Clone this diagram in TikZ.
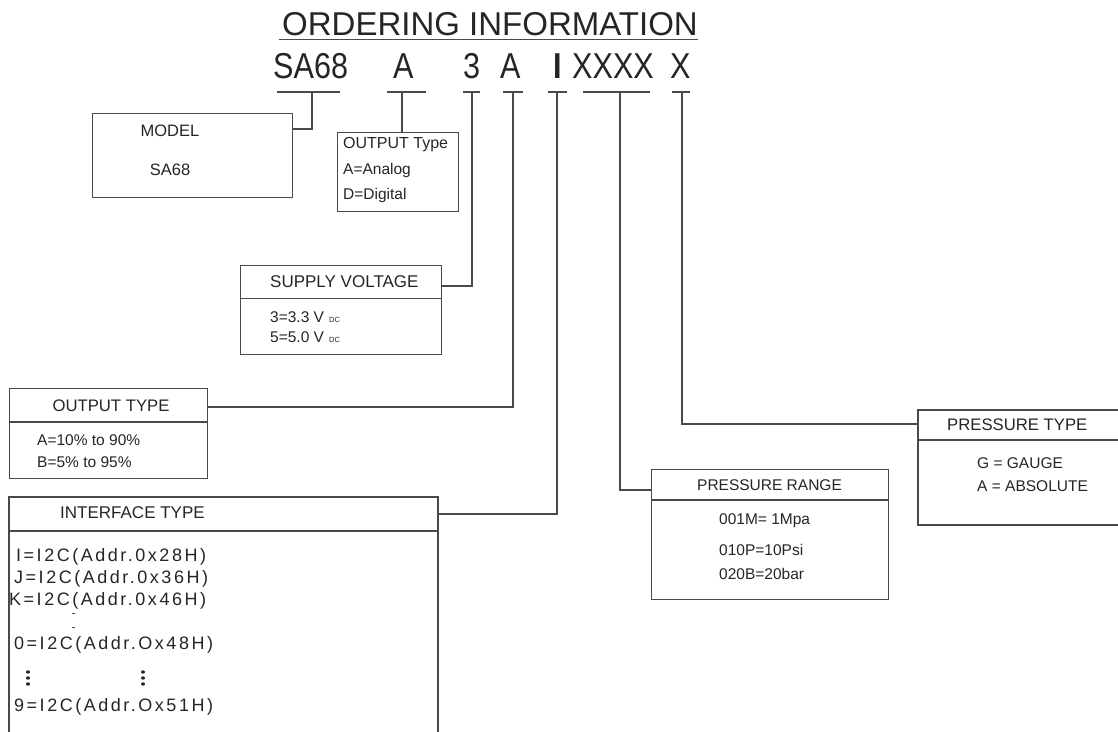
\documentclass[tikz,border=0pt]{standalone}
\usepackage{fontspec}
\setmainfont{Liberation Sans}
\newfontfamily\spacedfont[LetterSpace=14]{Liberation Sans}
\newfontfamily\codefont[FakeStretch=0.85]{Liberation Sans}
\definecolor{ink}{HTML}{252525}
\definecolor{edge}{HTML}{4A4A4A}
\begin{document}
\begin{tikzpicture}[x=1pt,y=-1pt,
  txt/.style={text=ink, inner sep=0pt, font=\fontsize{15.5}{18}\selectfont},
  head/.style={text=ink, inner sep=0pt, font=\fontsize{16.7}{19}\selectfont},
  code/.style={text=ink, inner sep=0pt, anchor=base west, font=\fontsize{36}{40}\codefont},
  iftxt/.style={text=ink, inner sep=0pt, anchor=base west, font=\fontsize{18}{21}\spacedfont},
  boxnode/.style={inner sep=0pt, anchor=north west},
  ln/.style={draw=edge, line width=1.1pt},
]
\useasboundingbox (0,0) rectangle (1118,731);

% title
\node[text=ink, inner sep=0pt, anchor=base, font=\fontsize{33}{36}\selectfont] (title) at (490,35) {ORDERING INFORMATION};
\draw[ln] (title.base west) ++(-3,4.5) coordinate (ul1);
\coordinate (ul2) at (698,39.5);
\draw[ln] (ul1) -- (ul2);

% code letters
\node[code] (cSA) at (273,78) {SA68};
\node[code] (cA)  at (393,78) {A};
\node[code] (c3)  at (463,78) {3};
\node[code] (cA2) at (500,78) {A};
\node[code, font=\fontsize{36}{40}\codefont\bfseries] (cI)  at (553,78) {I};
\node[code] (cXX) at (572,78) {XXXX};
\node[code] (cX)  at (670,78) {X};

% underscores and tick points
\coordinate (t1) at (312,92); \draw[ln] (277,92) -- (340,92);
\coordinate (t2) at (402,92); \draw[ln] (387,92) -- (426,92);
\coordinate (t3) at (472,92); \draw[ln] (463,92) -- (480,92);
\coordinate (t4) at (513,92); \draw[ln] (503,92) -- (523,92);
\coordinate (t5) at (557,92); \draw[ln] (548,92) -- (567,92);
\coordinate (t6) at (620,92); \draw[ln] (583,92) -- (650,92);
\coordinate (t7) at (682,92); \draw[ln] (672,92) -- (690,92);

% MODEL box
\node[boxnode, draw=edge, line width=1.1pt, minimum width=200pt, minimum height=84pt] (model) at (92,113) {};
\node[txt, font=\fontsize{16.5}{19}\selectfont] (m1) at (170,131) {MODEL};
\node[txt, font=\fontsize{16.5}{19}\selectfont] (m2) at (170,170) {SA68};
\coordinate (modelc) at (292,129);
\draw[ln] (t1) |- (modelc);

% OUTPUT Type box
\node[boxnode, draw=edge, line width=1.1pt, minimum width=121pt, minimum height=79pt] (otype) at (337,132) {};
\node[txt, anchor=west, font=\fontsize{16}{19}\selectfont] (o1) at (343,145) {OUTPUT Type};
\node[txt, anchor=west] (o2) at (343,170) {A=Analog};
\node[txt, anchor=west] (o3) at (343,195) {D=Digital};
\draw[ln] (t2) -- (t2 |- otype.north);

% SUPPLY VOLTAGE box
\node[boxnode, draw=edge, line width=1.1pt, minimum width=201pt, minimum height=89pt] (supply) at (240,265) {};
\draw[ln] (240,298.5) -- (441,298.5);
\node[head, anchor=west, font=\fontsize{17}{20}\selectfont] (s0) at (270,282) {SUPPLY VOLTAGE};
\node[txt, anchor=base west] (s1) at (270,322) {3=3.3 V\,\,{\fontsize{7.5}{8}\selectfont DC}};
\node[txt, anchor=base west] (s2) at (270,342) {5=5.0 V\,\,{\fontsize{7.5}{8}\selectfont DC}};
\coordinate (supc) at (441,286);
\draw[ln] (t3) |- (supc);

% OUTPUT TYPE box
\node[boxnode, draw=edge, line width=1.1pt, minimum width=198pt, minimum height=90pt] (outt) at (9,388) {};
\draw[ln] (9,422) -- (207,422);
\node[head] (u0) at (111,406) {OUTPUT TYPE};
\node[txt, anchor=west] (u1) at (37,440) {A=10\% to 90\%};
\node[txt, anchor=west] (u2) at (37,462) {B=5\% to 95\%};
\coordinate (outc) at (207,407);
\draw[ln] (t4) |- (outc);

% INTERFACE TYPE box (continues past the bottom edge)
\coordinate (ifa) at (9,735);
\coordinate (ifb) at (438,735);
\draw[ln] (ifa) -- (9,497) -- (438,497) -- (ifb);
\draw[ln] (9,531) -- (438,531);
\node[head, anchor=west, font=\fontsize{17}{20}\selectfont] (i0) at (60,513) {INTERFACE TYPE};
\node[iftxt] (i1) at (16,561) {I=I2C(Addr.0x28H)};
\node[iftxt] (i2) at (14,583) {J=I2C(Addr.0x36H)};
\node[iftxt] (i3) at (9,605) {K=I2C(Addr.0x46H)};
\node[iftxt] (i4) at (14,649) {0=I2C(Addr.Ox48H)};
\node[iftxt] (i5) at (14,711) {9=I2C(Addr.Ox51H)};
\draw[ln, line width=0.8pt] (72,613) -- (75,613);
\draw[ln, line width=0.8pt] (72,627) -- (75,627);
\foreach \xx in {28,143} {
  \foreach \yy in {672,678,684} {
    \fill[ink] (\xx,\yy) ellipse (2pt and 1.7pt);
  }
}
\coordinate (ifc) at (438,514);
\draw[ln] (t5) |- (ifc);

% PRESSURE RANGE box
\node[boxnode, draw=edge, line width=1.1pt, minimum width=237pt, minimum height=130pt] (prange) at (651,469) {};
\draw[ln] (651,500) -- (888,500);
\node[txt] (r0) at (769.5,485) {PRESSURE RANGE};
\node[txt, anchor=west] (r1) at (719,521) {001M= 1Mpa};
\node[txt, anchor=west] (r2) at (719,550) {010P=10Psi};
\node[txt, anchor=west] (r3) at (719,574) {020B=20bar};
\coordinate (prc) at (651,490);
\draw[ln] (t6) |- (prc);

% PRESSURE TYPE box (continues past the right edge)
\coordinate (pta) at (1125,410);
\coordinate (ptb) at (1125,525);
\draw[ln] (pta) -- (918,410) -- (918,525) -- (ptb);
\draw[ln] (918,440) -- (1125,440);
\node[head, anchor=west] (p0) at (947,425) {PRESSURE TYPE};
\node[txt, anchor=west] (p1) at (977,463) {G = GAUGE};
\node[txt, anchor=west] (p2) at (977,486) {A = ABSOLUTE};
\coordinate (ptc) at (918,424);
\draw[ln] (t7) |- (ptc);
\end{tikzpicture}
\end{document}
